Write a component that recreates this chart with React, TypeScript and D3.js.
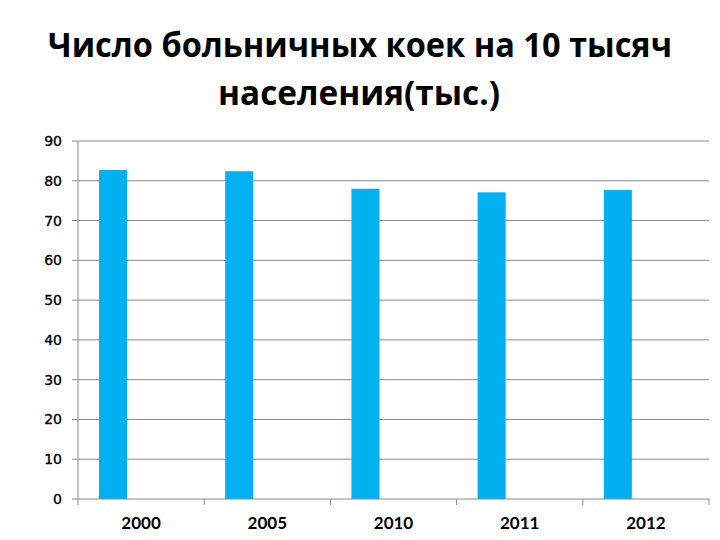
import React from "react";
import * as d3 from "d3";

const titleLines = ["Число больничных коек на 10 тысяч", "населения(тыс.)"];
const categories = ["2000", "2005", "2010", "2011", "2012"];
const values = [82.7, 82.4, 78.0, 77.1, 77.7];
const seriesSlots = ["s1", "s2", "s3"];
const yTicks = [0, 10, 20, 30, 40, 50, 60, 70, 80, 90];

export default function App() {
  const W = 720, H = 540;
  const left = 78, right = 709, top = 141, bottom = 499;
  const x = d3.scaleBand<string>().domain(categories).range([left, right]).paddingInner(0).paddingOuter(0);
  const y = d3.scaleLinear().domain([0, 90]).range([bottom, top]);
  const bw = x.bandwidth();
  const inner = d3.scaleBand<string>().domain(seriesSlots).range([0, bw]).paddingInner(0).paddingOuter(0.75);
  const grid = "#8a8a8a";
  return (
    <svg width={W} height={H} style={{ position: "absolute", left: 0, top: 0, background: "#fff" }}>
      <g fontFamily="'Open Sans', Lato, sans-serif" fontWeight="bold" fontSize={34} fill="#000" textAnchor="middle">
        <text x={360} y={57} textLength={624} lengthAdjust="spacingAndGlyphs">{titleLines[0]}</text>
        <text x={359} y={105} textLength={282} lengthAdjust="spacingAndGlyphs">{titleLines[1]}</text>
      </g>
      {yTicks.map((t) => (
        <g key={t}>
          {t > 0 && <line x1={left} x2={right} y1={y(t)} y2={y(t)} stroke={grid} strokeWidth={1} />}
          <line x1={left - 6} x2={left} y1={y(t)} y2={y(t)} stroke={grid} strokeWidth={1} />
          <text x={62} y={y(t)} dy="0.36em" textAnchor="end" fontFamily="DejaVu Sans, sans-serif" fontSize={14} fill="#000" stroke="#000" strokeWidth={0.35}>{t}</text>
        </g>
      ))}
      {categories.map((c, i) => (
        <rect key={c} x={(x(c) as number) + (inner("s1") as number)} y={y(values[i])} width={inner.bandwidth()} height={bottom - y(values[i])} fill="#00B0F0" />
      ))}
      <line x1={left} x2={left} y1={top} y2={bottom} stroke={grid} strokeWidth={1} />
      <line x1={left} x2={right} y1={bottom} y2={bottom} stroke={grid} strokeWidth={1} />
      {[...categories.map((c) => x(c) as number), right].map((px, i) => (
        <line key={i} x1={px} x2={px} y1={bottom} y2={bottom + 6} stroke={grid} strokeWidth={1} />
      ))}
      {categories.map((c) => (
        <text key={c} x={(x(c) as number) + bw / 2} y={529} textAnchor="middle" fontFamily="Lato, sans-serif" fontWeight="bold" fontSize={17} fill="#000">{c}</text>
      ))}
    </svg>
  );
}
